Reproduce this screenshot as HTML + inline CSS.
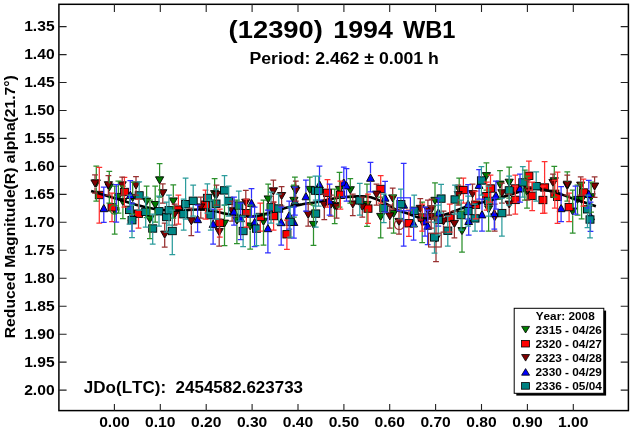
<!DOCTYPE html>
<html><head><meta charset="utf-8"><title>(12390) 1994 WB1</title>
<style>
html,body{margin:0;padding:0;background:#fff;}
svg{display:block}
text{font-family:"Liberation Sans",sans-serif;font-weight:bold;fill:#000;font-kerning:none}
</style></head><body>
<svg width="632" height="431" viewBox="0 0 632 431">
<rect width="632" height="431" fill="#fff"/>

<rect x="58.9" y="4.3" width="569.5" height="406.3" fill="none" stroke="#000" stroke-width="1.5"/>
<path d="M114.4 4.3v7.8M114.4 410.6v-6.6M160.3 4.3v7.8M160.3 410.6v-6.6M206.2 4.3v7.8M206.2 410.6v-6.6M252.1 4.3v7.8M252.1 410.6v-6.6M298.0 4.3v7.8M298.0 410.6v-6.6M343.9 4.3v7.8M343.9 410.6v-6.6M389.7 4.3v7.8M389.7 410.6v-6.6M435.6 4.3v7.8M435.6 410.6v-6.6M481.5 4.3v7.8M481.5 410.6v-6.6M527.4 4.3v7.8M527.4 410.6v-6.6M573.3 4.3v7.8M573.3 410.6v-6.6M58.9 26.6h7.7M628.4 26.6h-7.7M58.9 54.6h7.7M628.4 54.6h-7.7M58.9 82.5h7.7M628.4 82.5h-7.7M58.9 110.5h7.7M628.4 110.5h-7.7M58.9 138.4h7.7M628.4 138.4h-7.7M58.9 166.4h7.7M628.4 166.4h-7.7M58.9 194.4h7.7M628.4 194.4h-7.7M58.9 222.3h7.7M628.4 222.3h-7.7M58.9 250.3h7.7M628.4 250.3h-7.7M58.9 278.2h7.7M628.4 278.2h-7.7M58.9 306.2h7.7M628.4 306.2h-7.7M58.9 334.2h7.7M628.4 334.2h-7.7M58.9 362.1h7.7M628.4 362.1h-7.7M58.9 390.1h7.7M628.4 390.1h-7.7" stroke="#222" stroke-width="1.1" fill="none"/>
<text x="99.2" y="426.8" font-size="14.2" text-anchor="start" textLength="30.4" lengthAdjust="spacingAndGlyphs">0.00</text>
<text x="145.1" y="426.8" font-size="14.2" text-anchor="start" textLength="30.4" lengthAdjust="spacingAndGlyphs">0.10</text>
<text x="191.0" y="426.8" font-size="14.2" text-anchor="start" textLength="30.4" lengthAdjust="spacingAndGlyphs">0.20</text>
<text x="236.9" y="426.8" font-size="14.2" text-anchor="start" textLength="30.4" lengthAdjust="spacingAndGlyphs">0.30</text>
<text x="282.8" y="426.8" font-size="14.2" text-anchor="start" textLength="30.4" lengthAdjust="spacingAndGlyphs">0.40</text>
<text x="328.7" y="426.8" font-size="14.2" text-anchor="start" textLength="30.4" lengthAdjust="spacingAndGlyphs">0.50</text>
<text x="374.5" y="426.8" font-size="14.2" text-anchor="start" textLength="30.4" lengthAdjust="spacingAndGlyphs">0.60</text>
<text x="420.4" y="426.8" font-size="14.2" text-anchor="start" textLength="30.4" lengthAdjust="spacingAndGlyphs">0.70</text>
<text x="466.3" y="426.8" font-size="14.2" text-anchor="start" textLength="30.4" lengthAdjust="spacingAndGlyphs">0.80</text>
<text x="512.2" y="426.8" font-size="14.2" text-anchor="start" textLength="30.4" lengthAdjust="spacingAndGlyphs">0.90</text>
<text x="558.1" y="426.8" font-size="14.2" text-anchor="start" textLength="30.4" lengthAdjust="spacingAndGlyphs">1.00</text>
<text x="24.2" y="31.2" font-size="14.2" text-anchor="start" textLength="30.4" lengthAdjust="spacingAndGlyphs">1.35</text>
<text x="24.2" y="59.2" font-size="14.2" text-anchor="start" textLength="30.4" lengthAdjust="spacingAndGlyphs">1.40</text>
<text x="24.2" y="87.1" font-size="14.2" text-anchor="start" textLength="30.4" lengthAdjust="spacingAndGlyphs">1.45</text>
<text x="24.2" y="115.1" font-size="14.2" text-anchor="start" textLength="30.4" lengthAdjust="spacingAndGlyphs">1.50</text>
<text x="24.2" y="143.0" font-size="14.2" text-anchor="start" textLength="30.4" lengthAdjust="spacingAndGlyphs">1.55</text>
<text x="24.2" y="171.0" font-size="14.2" text-anchor="start" textLength="30.4" lengthAdjust="spacingAndGlyphs">1.60</text>
<text x="24.2" y="199.0" font-size="14.2" text-anchor="start" textLength="30.4" lengthAdjust="spacingAndGlyphs">1.65</text>
<text x="24.2" y="226.9" font-size="14.2" text-anchor="start" textLength="30.4" lengthAdjust="spacingAndGlyphs">1.70</text>
<text x="24.2" y="254.9" font-size="14.2" text-anchor="start" textLength="30.4" lengthAdjust="spacingAndGlyphs">1.75</text>
<text x="24.2" y="282.8" font-size="14.2" text-anchor="start" textLength="30.4" lengthAdjust="spacingAndGlyphs">1.80</text>
<text x="24.2" y="310.8" font-size="14.2" text-anchor="start" textLength="30.4" lengthAdjust="spacingAndGlyphs">1.85</text>
<text x="24.2" y="338.8" font-size="14.2" text-anchor="start" textLength="30.4" lengthAdjust="spacingAndGlyphs">1.90</text>
<text x="24.2" y="366.7" font-size="14.2" text-anchor="start" textLength="30.4" lengthAdjust="spacingAndGlyphs">1.95</text>
<text x="24.2" y="394.7" font-size="14.2" text-anchor="start" textLength="30.4" lengthAdjust="spacingAndGlyphs">2.00</text>
<text transform="translate(228.60,38.3) scale(1.1898,1)" font-size="23.0">(12390)</text>
<text transform="translate(333.30,38.3) scale(1.1632,1)" font-size="23.0">1994</text>
<text transform="translate(403.00,38.3) scale(1.0273,1)" font-size="23.0">WB1</text>
<text x="249.5" y="64.2" font-size="15.8" text-anchor="start" textLength="189.3" lengthAdjust="spacingAndGlyphs">Period: 2.462 ± 0.001 h</text>
<text transform="translate(83.80,393) scale(1.0795,1)" font-size="15.8">JDo(LTC):</text>
<text transform="translate(175.60,393) scale(1.0751,1)" font-size="15.8">2454582.623733</text>
<text transform="translate(15.1,338.2) rotate(-90)" font-size="15.1" textLength="263" lengthAdjust="spacingAndGlyphs">Reduced Magnitude(R) alpha(21.7°)</text>
<g fill="#007a00" stroke="#000" stroke-width="0.9">
<path d="M92.2 179.9h8.2l-4.1 7.2z"/>
<path d="M105.2 183.9h8.2l-4.1 7.2z"/>
<path d="M110.6 207.4h8.2l-4.1 7.2z"/>
<path d="M114.3 193.4h8.2l-4.1 7.2z"/>
<path d="M118.8 198.4h8.2l-4.1 7.2z"/>
<path d="M128.6 194.4h8.2l-4.1 7.2z"/>
<path d="M142.5 198.1h8.2l-4.1 7.2z"/>
<path d="M145.8 215.8h8.2l-4.1 7.2z"/>
<path d="M151.1 201.5h8.2l-4.1 7.2z"/>
<path d="M155.5 176.8h8.2l-4.1 7.2z"/>
<path d="M169.2 197.9h8.2l-4.1 7.2z"/>
<path d="M210.5 190.6h8.2l-4.1 7.2z"/>
<path d="M220.4 220.1h8.2l-4.1 7.2z"/>
<path d="M232.8 217.2h8.2l-4.1 7.2z"/>
<path d="M246.1 222.9h8.2l-4.1 7.2z"/>
<path d="M259.4 218.2h8.2l-4.1 7.2z"/>
<path d="M264.1 195.9h8.2l-4.1 7.2z"/>
<path d="M289.8 197.3h8.2l-4.1 7.2z"/>
<path d="M290.8 185.9h8.2l-4.1 7.2z"/>
<path d="M305.7 186.4h8.2l-4.1 7.2z"/>
<path d="M309.4 221.4h8.2l-4.1 7.2z"/>
<path d="M330.6 202.5h8.2l-4.1 7.2z"/>
<path d="M335.4 186.4h8.2l-4.1 7.2z"/>
<path d="M346.2 186.7h8.2l-4.1 7.2z"/>
<path d="M362.9 201.4h8.2l-4.1 7.2z"/>
<path d="M376.6 213.4h8.2l-4.1 7.2z"/>
<path d="M389.5 210.4h8.2l-4.1 7.2z"/>
<path d="M418.1 218.4h8.2l-4.1 7.2z"/>
<path d="M430.9 197.3h8.2l-4.1 7.2z"/>
<path d="M455.1 186.4h8.2l-4.1 7.2z"/>
<path d="M457.9 227.6h8.2l-4.1 7.2z"/>
<path d="M482.3 172.6h8.2l-4.1 7.2z"/>
<path d="M484.5 205.8h8.2l-4.1 7.2z"/>
<path d="M495.9 181.1h8.2l-4.1 7.2z"/>
<path d="M505.1 179.2h8.2l-4.1 7.2z"/>
<path d="M520.7 181.1h8.2l-4.1 7.2z"/>
<path d="M522.9 188.4h8.2l-4.1 7.2z"/>
<path d="M550.2 177.7h8.2l-4.1 7.2z"/>
<path d="M563.2 182.4h8.2l-4.1 7.2z"/>
<path d="M568.6 208.0h8.2l-4.1 7.2z"/>
<path d="M573.4 196.4h8.2l-4.1 7.2z"/>
<path d="M577.5 196.4h8.2l-4.1 7.2z"/>
<path d="M587.0 193.7h8.2l-4.1 7.2z"/>
</g>
<g fill="#ff0000" stroke="#000" stroke-width="0.9">
<rect x="95.3" y="191.3" width="8.0" height="7.4"/>
<rect x="108.0" y="203.6" width="8.0" height="7.4"/>
<rect x="120.4" y="188.3" width="8.0" height="7.4"/>
<rect x="134.5" y="210.0" width="8.0" height="7.4"/>
<rect x="174.4" y="205.9" width="8.0" height="7.4"/>
<rect x="201.5" y="201.0" width="8.0" height="7.4"/>
<rect x="215.8" y="219.2" width="8.0" height="7.4"/>
<rect x="242.4" y="209.5" width="8.0" height="7.4"/>
<rect x="256.3" y="213.3" width="8.0" height="7.4"/>
<rect x="269.6" y="212.4" width="8.0" height="7.4"/>
<rect x="282.9" y="230.6" width="8.0" height="7.4"/>
<rect x="323.5" y="189.1" width="8.0" height="7.4"/>
<rect x="336.4" y="191.0" width="8.0" height="7.4"/>
<rect x="364.0" y="204.9" width="8.0" height="7.4"/>
<rect x="376.7" y="185.3" width="8.0" height="7.4"/>
<rect x="404.9" y="219.6" width="8.0" height="7.4"/>
<rect x="418.2" y="213.8" width="8.0" height="7.4"/>
<rect x="445.7" y="214.3" width="8.0" height="7.4"/>
<rect x="459.4" y="186.3" width="8.0" height="7.4"/>
<rect x="471.7" y="201.0" width="8.0" height="7.4"/>
<rect x="482.7" y="192.4" width="8.0" height="7.4"/>
<rect x="486.5" y="184.8" width="8.0" height="7.4"/>
<rect x="511.3" y="184.8" width="8.0" height="7.4"/>
<rect x="511.3" y="196.2" width="8.0" height="7.4"/>
<rect x="524.9" y="172.1" width="8.0" height="7.4"/>
<rect x="528.2" y="192.1" width="8.0" height="7.4"/>
<rect x="538.9" y="196.3" width="8.0" height="7.4"/>
<rect x="540.6" y="183.8" width="8.0" height="7.4"/>
<rect x="550.8" y="190.1" width="8.0" height="7.4"/>
<rect x="553.5" y="193.1" width="8.0" height="7.4"/>
<rect x="565.1" y="203.4" width="8.0" height="7.4"/>
<rect x="579.4" y="188.8" width="8.0" height="7.4"/>
</g>
<g fill="#800000" stroke="#000" stroke-width="0.9">
<path d="M90.9 179.9h8.2l-4.1 7.2z"/>
<path d="M104.3 181.7h8.2l-4.1 7.2z"/>
<path d="M118.1 181.8h8.2l-4.1 7.2z"/>
<path d="M131.9 182.0h8.2l-4.1 7.2z"/>
<path d="M158.7 189.7h8.2l-4.1 7.2z"/>
<path d="M160.6 231.1h8.2l-4.1 7.2z"/>
<path d="M170.5 211.0h8.2l-4.1 7.2z"/>
<path d="M187.2 217.7h8.2l-4.1 7.2z"/>
<path d="M196.7 203.9h8.2l-4.1 7.2z"/>
<path d="M212.4 191.6h8.2l-4.1 7.2z"/>
<path d="M215.1 228.6h8.2l-4.1 7.2z"/>
<path d="M228.0 207.7h8.2l-4.1 7.2z"/>
<path d="M241.7 199.2h8.2l-4.1 7.2z"/>
<path d="M269.3 187.8h8.2l-4.1 7.2z"/>
<path d="M277.5 192.5h8.2l-4.1 7.2z"/>
<path d="M291.7 187.4h8.2l-4.1 7.2z"/>
<path d="M304.1 211.2h8.2l-4.1 7.2z"/>
<path d="M320.2 201.5h8.2l-4.1 7.2z"/>
<path d="M326.8 201.4h8.2l-4.1 7.2z"/>
<path d="M332.5 203.4h8.2l-4.1 7.2z"/>
<path d="M348.7 200.9h8.2l-4.1 7.2z"/>
<path d="M358.2 203.4h8.2l-4.1 7.2z"/>
<path d="M372.4 191.1h8.2l-4.1 7.2z"/>
<path d="M385.7 212.8h8.2l-4.1 7.2z"/>
<path d="M388.6 194.9h8.2l-4.1 7.2z"/>
<path d="M394.9 218.4h8.2l-4.1 7.2z"/>
<path d="M416.2 205.3h8.2l-4.1 7.2z"/>
<path d="M423.8 207.2h8.2l-4.1 7.2z"/>
<path d="M427.5 205.8h8.2l-4.1 7.2z"/>
<path d="M427.1 213.4h8.2l-4.1 7.2z"/>
<path d="M431.9 235.4h8.2l-4.1 7.2z"/>
<path d="M439.4 217.9h8.2l-4.1 7.2z"/>
<path d="M450.3 220.4h8.2l-4.1 7.2z"/>
<path d="M454.1 191.6h8.2l-4.1 7.2z"/>
<path d="M468.4 190.6h8.2l-4.1 7.2z"/>
<path d="M490.6 213.8h8.2l-4.1 7.2z"/>
<path d="M497.8 189.7h8.2l-4.1 7.2z"/>
<path d="M505.1 201.1h8.2l-4.1 7.2z"/>
<path d="M523.5 186.8h8.2l-4.1 7.2z"/>
<path d="M548.9 179.4h8.2l-4.1 7.2z"/>
<path d="M563.2 181.2h8.2l-4.1 7.2z"/>
<path d="M576.6 182.1h8.2l-4.1 7.2z"/>
<path d="M590.5 183.0h8.2l-4.1 7.2z"/>
</g>
<path d="M91.1 190.9C92.8 191.4 96.2 192.5 101.0 194.0C105.8 195.5 113.7 197.9 120.0 199.8C126.3 201.7 132.7 203.9 139.0 205.5C145.3 207.1 151.7 208.7 158.0 209.5C164.3 210.3 170.0 210.5 177.0 210.5C184.0 210.5 193.6 209.4 199.9 209.5C206.2 209.6 210.0 210.5 215.0 211.3C220.0 212.1 223.7 213.6 230.0 214.5C236.3 215.4 246.0 216.9 253.0 216.5C260.0 216.1 265.7 213.7 272.0 212.0C278.3 210.3 285.9 207.9 291.0 206.6C296.1 205.3 298.4 205.0 302.5 204.3C306.6 203.6 312.7 202.9 315.8 202.3C318.9 201.8 317.6 201.8 321.4 201.0C325.2 200.2 332.5 198.6 338.5 197.8C344.5 197.0 352.1 196.5 357.5 196.4C362.9 196.3 366.1 196.0 370.8 197.2C375.6 198.4 381.9 201.5 386.0 203.6C390.1 205.7 391.8 207.8 395.6 209.5C399.4 211.2 404.8 212.6 408.9 214.0C413.0 215.4 416.1 217.2 420.0 217.9C423.9 218.6 427.7 218.9 432.0 218.3C436.3 217.7 441.0 216.0 446.0 214.3C451.0 212.6 456.2 210.1 462.0 208.2C467.8 206.3 474.7 204.5 481.0 202.8C487.3 201.1 494.9 199.4 500.0 198.0C505.1 196.6 507.7 195.4 511.5 194.2C515.3 193.0 519.0 191.7 522.9 190.8C526.8 189.9 531.0 188.9 535.0 188.8C539.0 188.7 543.0 189.5 546.8 190.2C550.5 190.9 553.3 191.6 557.5 192.9C561.7 194.2 567.6 196.7 571.8 198.2C576.0 199.7 578.5 200.5 582.5 201.8C586.5 203.2 593.7 205.6 595.9 206.3" fill="none" stroke="#000" stroke-width="2.6"/>
<g fill="#0000ff" stroke="#000" stroke-width="0.9">
<path d="M99.9 211.7h7.8l-3.9 -7.4z"/>
<path d="M126.4 198.5h7.8l-3.9 -7.4z"/>
<path d="M128.1 220.7h7.8l-3.9 -7.4z"/>
<path d="M193.7 222.7h7.8l-3.9 -7.4z"/>
<path d="M209.2 227.4h7.8l-3.9 -7.4z"/>
<path d="M230.1 215.0h7.8l-3.9 -7.4z"/>
<path d="M236.8 221.7h7.8l-3.9 -7.4z"/>
<path d="M247.6 206.5h7.8l-3.9 -7.4z"/>
<path d="M250.7 225.7h7.8l-3.9 -7.4z"/>
<path d="M264.0 231.7h7.8l-3.9 -7.4z"/>
<path d="M277.3 225.7h7.8l-3.9 -7.4z"/>
<path d="M285.3 218.8h7.8l-3.9 -7.4z"/>
<path d="M291.0 204.6h7.8l-3.9 -7.4z"/>
<path d="M290.0 225.5h7.8l-3.9 -7.4z"/>
<path d="M302.0 199.8h7.8l-3.9 -7.4z"/>
<path d="M315.6 187.9h7.8l-3.9 -7.4z"/>
<path d="M325.7 204.1h7.8l-3.9 -7.4z"/>
<path d="M339.9 186.0h7.8l-3.9 -7.4z"/>
<path d="M342.6 188.9h7.8l-3.9 -7.4z"/>
<path d="M366.6 181.3h7.8l-3.9 -7.4z"/>
<path d="M381.2 201.2h7.8l-3.9 -7.4z"/>
<path d="M399.8 208.2h7.8l-3.9 -7.4z"/>
<path d="M409.7 227.0h7.8l-3.9 -7.4z"/>
<path d="M421.1 225.0h7.8l-3.9 -7.4z"/>
<path d="M423.8 229.3h7.8l-3.9 -7.4z"/>
<path d="M434.4 216.0h7.8l-3.9 -7.4z"/>
<path d="M464.2 207.4h7.8l-3.9 -7.4z"/>
<path d="M464.8 224.5h7.8l-3.9 -7.4z"/>
<path d="M475.2 188.4h7.8l-3.9 -7.4z"/>
<path d="M478.1 217.9h7.8l-3.9 -7.4z"/>
<path d="M490.4 216.7h7.8l-3.9 -7.4z"/>
<path d="M492.0 198.9h7.8l-3.9 -7.4z"/>
<path d="M516.1 191.8h7.8l-3.9 -7.4z"/>
<path d="M557.2 211.7h7.8l-3.9 -7.4z"/>
<path d="M584.9 197.5h7.8l-3.9 -7.4z"/>
<path d="M586.6 219.7h7.8l-3.9 -7.4z"/>
</g>
<g fill="#008888" stroke="#000" stroke-width="0.9">
<rect x="135.2" y="191.7" width="8.0" height="7.4"/>
<rect x="125.5" y="206.2" width="8.0" height="7.4"/>
<rect x="128.0" y="216.5" width="8.0" height="7.4"/>
<rect x="141.7" y="208.1" width="8.0" height="7.4"/>
<rect x="148.7" y="224.8" width="8.0" height="7.4"/>
<rect x="155.0" y="207.6" width="8.0" height="7.4"/>
<rect x="162.6" y="213.3" width="8.0" height="7.4"/>
<rect x="165.0" y="206.6" width="8.0" height="7.4"/>
<rect x="168.3" y="227.3" width="8.0" height="7.4"/>
<rect x="181.6" y="200.5" width="8.0" height="7.4"/>
<rect x="179.7" y="210.5" width="8.0" height="7.4"/>
<rect x="189.2" y="197.1" width="8.0" height="7.4"/>
<rect x="203.4" y="194.3" width="8.0" height="7.4"/>
<rect x="206.8" y="211.4" width="8.0" height="7.4"/>
<rect x="212.0" y="200.0" width="8.0" height="7.4"/>
<rect x="220.5" y="186.7" width="8.0" height="7.4"/>
<rect x="224.7" y="197.2" width="8.0" height="7.4"/>
<rect x="234.8" y="201.9" width="8.0" height="7.4"/>
<rect x="239.1" y="227.3" width="8.0" height="7.4"/>
<rect x="252.5" y="224.9" width="8.0" height="7.4"/>
<rect x="267.0" y="203.6" width="8.0" height="7.4"/>
<rect x="274.7" y="204.8" width="8.0" height="7.4"/>
<rect x="286.1" y="218.1" width="8.0" height="7.4"/>
<rect x="311.4" y="186.9" width="8.0" height="7.4"/>
<rect x="314.6" y="187.2" width="8.0" height="7.4"/>
<rect x="311.7" y="209.9" width="8.0" height="7.4"/>
<rect x="355.8" y="196.7" width="8.0" height="7.4"/>
<rect x="379.8" y="204.5" width="8.0" height="7.4"/>
<rect x="396.9" y="200.5" width="8.0" height="7.4"/>
<rect x="410.2" y="207.1" width="8.0" height="7.4"/>
<rect x="437.1" y="194.9" width="8.0" height="7.4"/>
<rect x="434.3" y="216.2" width="8.0" height="7.4"/>
<rect x="430.5" y="233.7" width="8.0" height="7.4"/>
<rect x="443.8" y="227.0" width="8.0" height="7.4"/>
<rect x="451.0" y="195.8" width="8.0" height="7.4"/>
<rect x="457.1" y="211.4" width="8.0" height="7.4"/>
<rect x="464.1" y="207.3" width="8.0" height="7.4"/>
<rect x="471.0" y="214.7" width="8.0" height="7.4"/>
<rect x="477.4" y="176.8" width="8.0" height="7.4"/>
<rect x="484.6" y="197.2" width="8.0" height="7.4"/>
<rect x="497.9" y="209.4" width="8.0" height="7.4"/>
<rect x="505.2" y="186.7" width="8.0" height="7.4"/>
<rect x="518.8" y="178.7" width="8.0" height="7.4"/>
<rect x="532.2" y="182.5" width="8.0" height="7.4"/>
<rect x="583.5" y="205.6" width="8.0" height="7.4"/>
<rect x="586.0" y="215.8" width="8.0" height="7.4"/>
</g>
<path d="M93.4 166.0h5.8M93.4 201.0h5.8M96.3 166.0V179.6M96.3 187.4V201.0M106.4 171.4h5.8M106.4 203.0h5.8M109.3 171.4V183.6M109.3 191.4V203.0M111.8 186.0h5.8M111.8 234.0h5.8M114.7 186.0V207.1M114.7 214.9V234.0M115.5 181.0h5.8M115.5 213.0h5.8M118.4 181.0V193.1M118.4 200.9V213.0M120.0 186.0h5.8M120.0 218.5h5.8M122.9 186.0V198.1M122.9 205.9V218.5M129.8 182.0h5.8M129.8 214.0h5.8M132.7 182.0V194.1M132.7 201.9V214.0M143.7 186.0h5.8M143.7 217.5h5.8M146.6 186.0V197.8M146.6 205.6V217.5M147.0 200.0h5.8M147.0 238.5h5.8M149.9 200.0V215.5M149.9 223.3V238.5M152.3 186.0h5.8M152.3 222.0h5.8M155.2 186.0V201.2M155.2 209.0V222.0M156.7 163.7h5.8M156.7 197.0h5.8M159.6 163.7V176.5M159.6 184.3V197.0M170.4 184.8h5.8M170.4 218.0h5.8M173.3 184.8V197.6M173.3 205.4V218.0M211.7 178.6h5.8M211.7 210.0h5.8M214.6 178.6V190.3M214.6 198.1V210.0M221.6 205.0h5.8M221.6 245.6h5.8M224.5 205.0V219.8M224.5 227.6V245.6M234.0 200.0h5.8M234.0 243.7h5.8M236.9 200.0V216.9M236.9 224.7V243.7M247.3 205.0h5.8M247.3 249.0h5.8M250.2 205.0V222.6M250.2 230.4V249.0M260.6 200.0h5.8M260.6 245.2h5.8M263.5 200.0V217.9M263.5 225.7V245.2M265.3 184.0h5.8M265.3 215.0h5.8M268.2 184.0V195.6M268.2 203.4V215.0M291.0 185.0h5.8M291.0 217.0h5.8M293.9 185.0V197.0M293.9 204.8V217.0M292.0 177.1h5.8M292.0 203.0h5.8M294.9 177.1V185.6M294.9 193.4V203.0M306.9 177.0h5.8M306.9 204.0h5.8M309.8 177.0V186.1M309.8 193.9V204.0M310.6 205.0h5.8M310.6 245.3h5.8M313.5 205.0V221.1M313.5 228.9V245.3M331.8 189.0h5.8M331.8 223.5h5.8M334.7 189.0V202.2M334.7 210.0V223.5M336.6 172.4h5.8M336.6 207.0h5.8M339.5 172.4V186.1M339.5 193.9V207.0M347.4 178.5h5.8M347.4 203.0h5.8M350.3 178.5V186.4M350.3 194.2V203.0M364.1 184.2h5.8M364.1 226.4h5.8M367.0 184.2V201.1M367.0 208.9V226.4M377.8 197.0h5.8M377.8 237.8h5.8M380.7 197.0V213.1M380.7 220.9V237.8M390.7 195.0h5.8M390.7 233.0h5.8M393.6 195.0V210.1M393.6 217.9V233.0M419.3 202.0h5.8M419.3 242.5h5.8M422.2 202.0V218.1M422.2 225.9V242.5M432.1 182.8h5.8M432.1 218.0h5.8M435.0 182.8V197.0M435.0 204.8V218.0M456.3 178.0h5.8M456.3 204.0h5.8M459.2 178.0V186.1M459.2 193.9V204.0M459.1 211.0h5.8M459.1 252.0h5.8M462.0 211.0V227.3M462.0 235.1V252.0M483.5 162.9h5.8M483.5 190.0h5.8M486.4 162.9V172.3M486.4 180.1V190.0M485.7 190.0h5.8M485.7 231.0h5.8M488.6 190.0V205.5M488.6 213.3V231.0M497.1 170.5h5.8M497.1 199.0h5.8M500.0 170.5V180.8M500.0 188.6V199.0M506.3 167.2h5.8M506.3 198.0h5.8M509.2 167.2V178.9M509.2 186.7V198.0M521.9 170.0h5.8M521.9 200.0h5.8M524.8 170.0V180.8M524.8 188.6V200.0M524.1 176.0h5.8M524.1 208.0h5.8M527.0 176.0V188.1M527.0 195.9V208.0M551.4 166.4h5.8M551.4 197.0h5.8M554.3 166.4V177.4M554.3 185.2V197.0M564.4 171.8h5.8M564.4 201.0h5.8M567.3 171.8V182.1M567.3 189.9V201.0M569.8 190.0h5.8M569.8 233.2h5.8M572.7 190.0V207.7M572.7 215.5V233.2M574.6 185.0h5.8M574.6 215.0h5.8M577.5 185.0V196.1M577.5 203.9V215.0M578.7 183.0h5.8M578.7 218.8h5.8M581.6 183.0V196.1M581.6 203.9V218.8M588.2 182.0h5.8M588.2 212.0h5.8M591.1 182.0V193.4M591.1 201.2V212.0" stroke="#2c902c" stroke-width="1.25" fill="none"/>
<path d="M96.4 167.4h5.8M96.4 223.0h5.8M99.3 167.4V191.0M99.3 199.0V223.0M109.1 193.0h5.8M109.1 221.5h5.8M112.0 193.0V203.3M112.0 211.3V221.5M121.5 177.3h5.8M121.5 207.0h5.8M124.4 177.3V188.0M124.4 196.0V207.0M135.6 199.0h5.8M135.6 228.0h5.8M138.5 199.0V209.7M138.5 217.7V228.0M175.5 195.0h5.8M175.5 224.0h5.8M178.4 195.0V205.6M178.4 213.6V224.0M202.6 190.0h5.8M202.6 219.0h5.8M205.5 190.0V200.7M205.5 208.7V219.0M216.9 209.0h5.8M216.9 237.0h5.8M219.8 209.0V218.9M219.8 226.9V237.0M243.5 199.0h5.8M243.5 227.0h5.8M246.4 199.0V209.2M246.4 217.2V227.0M257.4 203.0h5.8M257.4 231.0h5.8M260.3 203.0V213.0M260.3 221.0V231.0M270.7 202.0h5.8M270.7 230.0h5.8M273.6 202.0V212.1M273.6 220.1V230.0M284.0 220.0h5.8M284.0 249.4h5.8M286.9 220.0V230.3M286.9 238.3V249.4M324.6 179.5h5.8M324.6 207.0h5.8M327.5 179.5V188.8M327.5 196.8V207.0M337.5 181.0h5.8M337.5 209.0h5.8M340.4 181.0V190.7M340.4 198.7V209.0M365.1 194.0h5.8M365.1 223.3h5.8M368.0 194.0V204.6M368.0 212.6V223.3M377.8 175.7h5.8M377.8 203.0h5.8M380.7 175.7V185.0M380.7 193.0V203.0M406.0 210.0h5.8M406.0 236.4h5.8M408.9 210.0V219.3M408.9 227.3V236.4M419.3 204.0h5.8M419.3 231.0h5.8M422.2 204.0V213.5M422.2 221.5V231.0M446.8 204.0h5.8M446.8 232.0h5.8M449.7 204.0V214.0M449.7 222.0V232.0M460.5 178.0h5.8M460.5 203.0h5.8M463.4 178.0V186.0M463.4 194.0V203.0M472.8 191.0h5.8M472.8 218.8h5.8M475.7 191.0V200.7M475.7 208.7V218.8M483.8 182.0h5.8M483.8 210.0h5.8M486.7 182.0V192.1M486.7 200.1V210.0M487.6 175.0h5.8M487.6 202.0h5.8M490.5 175.0V184.5M490.5 192.5V202.0M512.4 175.0h5.8M512.4 202.0h5.8M515.3 175.0V184.5M515.3 192.5V202.0M512.4 186.0h5.8M512.4 214.0h5.8M515.3 186.0V195.9M515.3 203.9V214.0M526.0 161.0h5.8M526.0 190.0h5.8M528.9 161.0V171.8M528.9 179.8V190.0M529.3 182.0h5.8M529.3 210.7h5.8M532.2 182.0V191.8M532.2 199.8V210.7M540.0 186.0h5.8M540.0 213.4h5.8M542.9 186.0V196.0M542.9 204.0V213.4M541.7 161.6h5.8M541.7 213.0h5.8M544.6 161.6V183.5M544.6 191.5V213.0M551.9 180.0h5.8M551.9 208.0h5.8M554.8 180.0V189.8M554.8 197.8V208.0M554.6 172.0h5.8M554.6 223.3h5.8M557.5 172.0V192.8M557.5 200.8V223.3M566.2 193.0h5.8M566.2 221.6h5.8M569.1 193.0V203.1M569.1 211.1V221.6M580.5 179.0h5.8M580.5 206.0h5.8M583.4 179.0V188.5M583.4 196.5V206.0" stroke="#ff3030" stroke-width="1.25" fill="none"/>
<path d="M92.1 174.8h5.8M92.1 193.0h5.8M95.0 174.8V179.6M95.0 187.4V193.0M105.5 175.7h5.8M105.5 195.0h5.8M108.4 175.7V181.4M108.4 189.2V195.0M119.3 177.0h5.8M119.3 195.0h5.8M122.2 177.0V181.5M122.2 189.3V195.0M133.1 176.7h5.8M133.1 195.0h5.8M136.0 176.7V181.7M136.0 189.5V195.0M159.9 183.8h5.8M159.9 203.0h5.8M162.8 183.8V189.4M162.8 197.2V203.0M161.8 223.0h5.8M161.8 247.0h5.8M164.7 223.0V230.8M164.7 238.6V247.0M171.7 204.0h5.8M171.7 225.0h5.8M174.6 204.0V210.7M174.6 218.5V225.0M188.4 208.0h5.8M188.4 235.6h5.8M191.3 208.0V217.4M191.3 225.2V235.6M197.9 197.0h5.8M197.9 218.0h5.8M200.8 197.0V203.6M200.8 211.4V218.0M213.6 185.0h5.8M213.6 205.0h5.8M216.5 185.0V191.3M216.5 199.1V205.0M216.3 219.0h5.8M216.3 246.0h5.8M219.2 219.0V228.3M219.2 236.1V246.0M229.2 201.0h5.8M229.2 221.0h5.8M232.1 201.0V207.4M232.1 215.2V221.0M242.9 190.4h5.8M242.9 214.0h5.8M245.8 190.4V198.9M245.8 206.7V214.0M270.5 180.0h5.8M270.5 202.0h5.8M273.4 180.0V187.5M273.4 195.3V202.0M278.7 186.6h5.8M278.7 206.0h5.8M281.6 186.6V192.2M281.6 200.0V206.0M292.9 181.0h5.8M292.9 201.0h5.8M295.8 181.0V187.1M295.8 194.9V201.0M305.3 204.0h5.8M305.3 226.0h5.8M308.2 204.0V210.9M308.2 218.7V226.0M321.4 194.0h5.8M321.4 219.7h5.8M324.3 194.0V201.2M324.3 209.0V219.7M328.0 195.0h5.8M328.0 216.0h5.8M330.9 195.0V201.1M330.9 208.9V216.0M333.7 197.0h5.8M333.7 218.0h5.8M336.6 197.0V203.1M336.6 210.9V218.0M349.9 194.0h5.8M349.9 215.6h5.8M352.8 194.0V200.6M352.8 208.4V215.6M359.4 197.0h5.8M359.4 217.0h5.8M362.3 197.0V203.1M362.3 210.9V217.0M373.6 184.0h5.8M373.6 205.0h5.8M376.5 184.0V190.8M376.5 198.6V205.0M386.9 205.0h5.8M386.9 228.2h5.8M389.8 205.0V212.5M389.8 220.3V228.2M389.8 188.0h5.8M389.8 209.0h5.8M392.7 188.0V194.6M392.7 202.4V209.0M396.1 210.0h5.8M396.1 234.0h5.8M399.0 210.0V218.1M399.0 225.9V234.0M417.4 198.5h5.8M417.4 219.0h5.8M420.3 198.5V205.0M420.3 212.8V219.0M425.0 200.0h5.8M425.0 222.0h5.8M427.9 200.0V206.9M427.9 214.7V222.0M428.7 199.0h5.8M428.7 219.0h5.8M431.6 199.0V205.5M431.6 213.3V219.0M428.3 206.0h5.8M428.3 228.0h5.8M431.2 206.0V213.1M431.2 220.9V228.0M433.1 217.0h5.8M433.1 261.5h5.8M436.0 217.0V235.1M436.0 242.9V261.5M440.6 211.0h5.8M440.6 232.0h5.8M443.5 211.0V217.6M443.5 225.4V232.0M451.5 211.0h5.8M451.5 237.8h5.8M454.4 211.0V220.1M454.4 227.9V237.8M455.3 185.0h5.8M455.3 205.0h5.8M458.2 185.0V191.3M458.2 199.1V205.0M469.6 184.0h5.8M469.6 204.0h5.8M472.5 184.0V190.3M472.5 198.1V204.0M491.8 204.0h5.8M491.8 231.0h5.8M494.7 204.0V213.5M494.7 221.3V231.0M499.0 183.0h5.8M499.0 203.0h5.8M501.9 183.0V189.4M501.9 197.2V203.0M506.3 194.0h5.8M506.3 215.0h5.8M509.2 194.0V200.8M509.2 208.6V215.0M524.7 180.0h5.8M524.7 200.0h5.8M527.6 180.0V186.5M527.6 194.3V200.0M550.1 174.0h5.8M550.1 193.0h5.8M553.0 174.0V179.1M553.0 186.9V193.0M564.4 175.0h5.8M564.4 195.0h5.8M567.3 175.0V180.9M567.3 188.7V195.0M577.8 176.8h5.8M577.8 195.0h5.8M580.7 176.8V181.8M580.7 189.6V195.0M591.7 176.8h5.8M591.7 197.3h5.8M594.6 176.8V182.7M594.6 190.5V197.3" stroke="#983030" stroke-width="1.25" fill="none"/>
<path d="M100.9 187.0h5.8M100.9 222.3h5.8M103.8 187.0V204.0M103.8 212.0V222.3M113.4 184.6h5.8M113.4 222.0h5.8M116.3 184.6V222.0M127.4 180.5h5.8M127.4 209.0h5.8M130.3 180.5V190.8M130.3 198.8V209.0M129.1 203.0h5.8M129.1 231.0h5.8M132.0 203.0V213.0M132.0 221.0V231.0M194.7 205.0h5.8M194.7 232.0h5.8M197.6 205.0V215.0M197.6 223.0V232.0M210.2 209.0h5.8M210.2 244.0h5.8M213.1 209.0V219.7M213.1 227.7V244.0M231.1 197.0h5.8M231.1 225.0h5.8M234.0 197.0V207.3M234.0 215.3V225.0M237.8 203.0h5.8M237.8 239.5h5.8M240.7 203.0V214.0M240.7 222.0V239.5M248.6 188.5h5.8M248.6 217.0h5.8M251.5 188.5V198.8M251.5 206.8V217.0M251.7 207.0h5.8M251.7 246.6h5.8M254.6 207.0V218.0M254.6 226.0V246.6M265.0 210.0h5.8M265.0 252.9h5.8M267.9 210.0V224.0M267.9 232.0V252.9M278.3 207.0h5.8M278.3 245.2h5.8M281.2 207.0V218.0M281.2 226.0V245.2M286.3 201.0h5.8M286.3 229.0h5.8M289.2 201.0V211.1M289.2 219.1V229.0M292.0 187.0h5.8M292.0 215.0h5.8M294.9 187.0V196.9M294.9 204.9V215.0M291.0 207.0h5.8M291.0 238.0h5.8M293.9 207.0V217.8M293.9 225.8V238.0M303.0 180.0h5.8M303.0 211.0h5.8M305.9 180.0V192.1M305.9 200.1V211.0M316.6 166.2h5.8M316.6 200.0h5.8M319.5 166.2V180.2M319.5 188.2V200.0M326.7 184.0h5.8M326.7 215.0h5.8M329.6 184.0V196.4M329.6 204.4V215.0M340.9 167.1h5.8M340.9 197.0h5.8M343.8 167.1V178.3M343.8 186.3V197.0M343.6 168.6h5.8M343.6 201.0h5.8M346.5 168.6V181.2M346.5 189.2V201.0M367.6 162.4h5.8M367.6 191.8h5.8M370.5 162.4V173.6M370.5 181.6V191.8M382.2 181.4h5.8M382.2 212.0h5.8M385.1 181.4V193.5M385.1 201.5V212.0M400.8 163.3h5.8M400.8 246.0h5.8M403.7 163.3V200.5M403.7 208.5V246.0M410.7 208.0h5.8M410.7 240.2h5.8M413.6 208.0V219.3M413.6 227.3V240.2M422.1 207.0h5.8M422.1 236.0h5.8M425.0 207.0V217.3M425.0 225.3V236.0M424.8 210.0h5.8M424.8 244.6h5.8M427.7 210.0V221.6M427.7 229.6V244.6M435.4 198.0h5.8M435.4 226.0h5.8M438.3 198.0V208.3M438.3 216.3V226.0M465.2 184.7h5.8M465.2 219.0h5.8M468.1 184.7V199.7M468.1 207.7V219.0M465.8 206.0h5.8M465.8 235.0h5.8M468.7 206.0V216.8M468.7 224.8V235.0M476.2 169.5h5.8M476.2 199.0h5.8M479.1 169.5V180.7M479.1 188.7V199.0M479.1 199.0h5.8M479.1 231.2h5.8M482.0 199.0V210.2M482.0 218.2V231.2M491.4 198.0h5.8M491.4 229.0h5.8M494.3 198.0V209.0M494.3 217.0V229.0M493.0 181.0h5.8M493.0 209.0h5.8M495.9 181.0V191.2M495.9 199.2V209.0M517.1 174.0h5.8M517.1 202.0h5.8M520.0 174.0V184.1M520.0 192.1V202.0M558.2 186.6h5.8M558.2 221.7h5.8M561.1 186.6V204.0M561.1 212.0V221.7M572.6 186.0h5.8M572.6 214.0h5.8M575.5 186.0V214.0M585.9 180.4h5.8M585.9 208.0h5.8M588.8 180.4V189.8M588.8 197.8V208.0M587.6 202.0h5.8M587.6 231.4h5.8M590.5 202.0V212.0M590.5 220.0V231.4" stroke="#3030ff" stroke-width="1.25" fill="none"/>
<path d="M136.3 181.9h5.8M136.3 210.0h5.8M139.2 181.9V191.4M139.2 199.4V210.0M126.6 195.0h5.8M126.6 224.0h5.8M129.5 195.0V205.9M129.5 213.9V224.0M129.1 205.0h5.8M129.1 237.5h5.8M132.0 205.0V216.2M132.0 224.2V237.5M142.8 197.0h5.8M142.8 227.0h5.8M145.7 197.0V207.8M145.7 215.8V227.0M149.8 214.0h5.8M149.8 244.2h5.8M152.7 214.0V224.5M152.7 232.5V244.2M156.1 196.0h5.8M156.1 226.0h5.8M159.0 196.0V207.3M159.0 215.3V226.0M163.7 202.0h5.8M163.7 232.0h5.8M166.6 202.0V213.0M166.6 221.0V232.0M166.1 195.0h5.8M166.1 225.0h5.8M169.0 195.0V206.3M169.0 214.3V225.0M169.4 210.0h5.8M169.4 254.6h5.8M172.3 210.0V227.0M172.3 235.0V254.6M182.7 178.0h5.8M182.7 219.0h5.8M185.6 178.0V200.2M185.6 208.2V219.0M180.8 199.0h5.8M180.8 230.0h5.8M183.7 199.0V210.2M183.7 218.2V230.0M190.3 185.0h5.8M190.3 216.0h5.8M193.2 185.0V196.8M193.2 204.8V216.0M204.5 183.8h5.8M204.5 213.0h5.8M207.4 183.8V194.0M207.4 202.0V213.0M207.9 200.0h5.8M207.9 230.0h5.8M210.8 200.0V211.1M210.8 219.1V230.0M213.1 189.0h5.8M213.1 219.0h5.8M216.0 189.0V199.7M216.0 207.7V219.0M221.6 175.6h5.8M221.6 205.0h5.8M224.5 175.6V186.4M224.5 194.4V205.0M225.8 186.0h5.8M225.8 216.0h5.8M228.7 186.0V196.9M228.7 204.9V216.0M235.9 191.0h5.8M235.9 221.0h5.8M238.8 191.0V201.6M238.8 209.6V221.0M240.2 216.0h5.8M240.2 246.6h5.8M243.1 216.0V227.0M243.1 235.0V246.6M253.6 214.0h5.8M253.6 245.6h5.8M256.5 214.0V224.6M256.5 232.6V245.6M268.1 192.0h5.8M268.1 223.0h5.8M271.0 192.0V203.3M271.0 211.3V223.0M275.8 194.0h5.8M275.8 224.0h5.8M278.7 194.0V204.5M278.7 212.5V224.0M287.2 207.0h5.8M287.2 237.0h5.8M290.1 207.0V217.8M290.1 225.8V237.0M312.5 176.0h5.8M312.5 206.0h5.8M315.4 176.0V186.6M315.4 194.6V206.0M315.7 176.0h5.8M315.7 206.0h5.8M318.6 176.0V186.9M318.6 194.9V206.0M312.8 200.0h5.8M312.8 227.0h5.8M315.7 200.0V209.6M315.7 217.6V227.0M356.9 183.3h5.8M356.9 215.0h5.8M359.8 183.3V196.4M359.8 204.4V215.0M380.9 194.0h5.8M380.9 222.6h5.8M383.8 194.0V204.2M383.8 212.2V222.6M398.0 189.0h5.8M398.0 219.0h5.8M400.9 189.0V200.2M400.9 208.2V219.0M411.3 195.2h5.8M411.3 226.0h5.8M414.2 195.2V206.8M414.2 214.8V226.0M438.2 184.3h5.8M438.2 213.0h5.8M441.1 184.3V194.6M441.1 202.6V213.0M435.4 205.0h5.8M435.4 235.0h5.8M438.3 205.0V215.9M438.3 223.9V235.0M431.6 222.0h5.8M431.6 253.0h5.8M434.5 222.0V233.4M434.5 241.4V253.0M444.9 216.0h5.8M444.9 246.0h5.8M447.8 216.0V226.7M447.8 234.7V246.0M452.1 185.0h5.8M452.1 214.0h5.8M455.0 185.0V195.5M455.0 203.5V214.0M458.2 200.0h5.8M458.2 230.0h5.8M461.1 200.0V211.1M461.1 219.1V230.0M465.2 196.0h5.8M465.2 226.0h5.8M468.1 196.0V207.0M468.1 215.0V226.0M472.1 204.0h5.8M472.1 231.0h5.8M475.0 204.0V214.4M475.0 222.4V231.0M478.5 166.7h5.8M478.5 195.0h5.8M481.4 166.7V176.5M481.4 184.5V195.0M485.7 186.0h5.8M485.7 216.0h5.8M488.6 186.0V196.9M488.6 204.9V216.0M499.0 198.0h5.8M499.0 236.0h5.8M501.9 198.0V209.1M501.9 217.1V236.0M506.3 176.0h5.8M506.3 205.0h5.8M509.2 176.0V186.4M509.2 194.4V205.0M519.9 166.7h5.8M519.9 197.0h5.8M522.8 166.7V178.4M522.8 186.4V197.0M533.3 171.8h5.8M533.3 201.0h5.8M536.2 171.8V182.2M536.2 190.2V201.0M584.6 195.0h5.8M584.6 227.5h5.8M587.5 195.0V205.3M587.5 213.3V227.5M587.1 205.0h5.8M587.1 237.9h5.8M590.0 205.0V215.5M590.0 223.5V237.9" stroke="#2c9c9c" stroke-width="1.25" fill="none"/>
<g fill="none" stroke-width="1.2">
<rect x="397.4" y="197.8" width="13" height="13" stroke="#3030ff"/>
<circle cx="399.3" cy="224.6" r="4.9" stroke="#983030"/>
<rect x="428.6" y="233.2" width="12.6" height="13.8" stroke="#983030"/>
<circle cx="114.6" cy="209.5" r="4.6" stroke="#2c902c"/>
</g>
<rect x="516.3" y="310.6" width="89.8" height="85" fill="#000"/>
<rect x="514.2" y="308.3" width="89.6" height="85" fill="#fff" stroke="#000" stroke-width="1"/>
<text x="535.7" y="319.6" font-size="11.8" text-anchor="start" textLength="59" lengthAdjust="spacingAndGlyphs">Year: 2008</text>
<path d="M521.6 326.4h8.0l-4.0 6.6z" fill="#008000" stroke="#000" stroke-width="0.8"/>
<text x="535.5" y="333.8" font-size="11.8" text-anchor="start" textLength="66.3" lengthAdjust="spacingAndGlyphs">2315 - 04/26</text>
<rect x="521.6" y="340.4" width="8.0" height="6.6" fill="#ff0000" stroke="#000" stroke-width="0.8"/>
<text x="535.5" y="347.9" font-size="11.8" text-anchor="start" textLength="66.3" lengthAdjust="spacingAndGlyphs">2320 - 04/27</text>
<path d="M521.6 354.5h8.0l-4.0 6.6z" fill="#800000" stroke="#000" stroke-width="0.8"/>
<text x="535.5" y="361.9" font-size="11.8" text-anchor="start" textLength="66.3" lengthAdjust="spacingAndGlyphs">2323 - 04/28</text>
<path d="M521.6 375.2h8.0l-4.0 -6.6z" fill="#0000ff" stroke="#000" stroke-width="0.8"/>
<text x="535.5" y="376.0" font-size="11.8" text-anchor="start" textLength="66.3" lengthAdjust="spacingAndGlyphs">2330 - 04/29</text>
<rect x="521.6" y="382.6" width="8.0" height="6.6" fill="#008080" stroke="#000" stroke-width="0.8"/>
<text x="535.5" y="390.0" font-size="11.8" text-anchor="start" textLength="66.3" lengthAdjust="spacingAndGlyphs">2336 - 05/04</text>
</svg></body></html>
